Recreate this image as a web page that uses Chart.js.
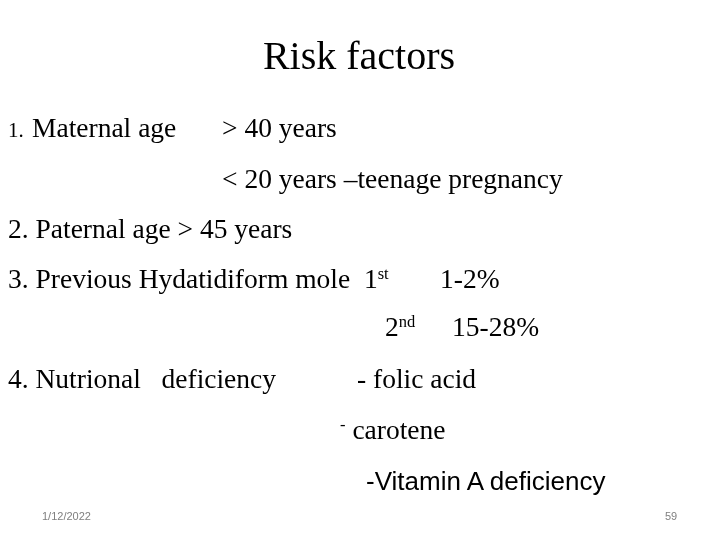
<!DOCTYPE html>
<html>
<head>
<meta charset="utf-8">
<script src="https://cdn.jsdelivr.net/npm/chart.js@4"></script>
<style>
  body { margin: 0; width: 720px; height: 540px; background: #fff; position: relative; overflow: hidden; }
  #chart-wrap { position: absolute; left: 0; top: 0; width: 720px; height: 540px; }
  .t { position: absolute; white-space: pre; font-family: "Liberation Serif", "Times New Roman", serif; color: #000; line-height: 1; }
  .sans { font-family: "Liberation Sans", "Open Sans", sans-serif; }
  sup { font-size: 60%; vertical-align: 0.55em; }
</style>
</head>
<body>
<div id="chart-wrap"><canvas id="canvas" width="720" height="540"></canvas></div>
<script>
// slide text: [text, x, baseline, size, font]
const titleText = ["Risk factors", 359, 72, 40];
const lines = [
  ["1.", 8, 139, 21, "serif"],
  ["Maternal age", 32, 139, 27.5, "serif"],
  ["> 40 years", 222, 139, 27.5, "serif"],
  ["< 20 years –teenage pregnancy", 222, 190, 27.5, "serif"],
  ["2. Paternal age > 45 years", 8, 240, 27.5, "serif"],
  ["3. Previous Hydatidiform mole  1<sup>st</sup>", 8, 290, 27.5, "serif"],
  ["1-2%", 440, 290, 27.5, "serif"],
  ["2<sup>nd</sup>", 385, 338, 27.5, "serif"],
  ["15-28%", 452, 338, 27.5, "serif"],
  ["4. Nutrional   deficiency", 8, 390, 27.5, "serif"],
  ["- folic acid", 357, 390, 27.5, "serif"],
  ["<sup>-</sup> carotene", 340, 441, 27.5, "serif"],
  ["-Vitamin A deficiency", 366, 491, 26, "sans"],
];
const footer = [
  ["1/12/2022", 42, 521, 11],
  ["59", 665, 521, 11],
];

function place(text, x, base, size, cls, center) {
  const d = document.createElement("div");
  d.className = "t" + (cls === "sans" ? " sans" : "");
  d.style.fontSize = size + "px";
  d.style.top = (base - size * 0.9) + "px";
  d.style.left = x + "px";
  if (center) d.style.transform = "translateX(-50%)";
  d.innerHTML = text;
  document.body.appendChild(d);
  return d;
}

place(titleText[0], titleText[1], titleText[2], titleText[3], "serif", true);
lines.forEach((l) => place(l[0], l[1], l[2], l[3], l[4], false));
footer.forEach((f) => {
  const d = place(f[0], f[1], f[2], f[3], "sans", false);
  d.style.color = "#7f7f7f";
});

// empty chart frame (slide has no plotted marks)
new Chart(document.getElementById("canvas").getContext("2d"), {
  type: "bar",
  data: { labels: [], datasets: [] },
  options: {
    responsive: false,
    animation: false,
    plugins: { legend: { display: false }, tooltip: { enabled: false } },
    scales: { x: { display: false }, y: { display: false } },
  },
});
</script>
</body>
</html>
